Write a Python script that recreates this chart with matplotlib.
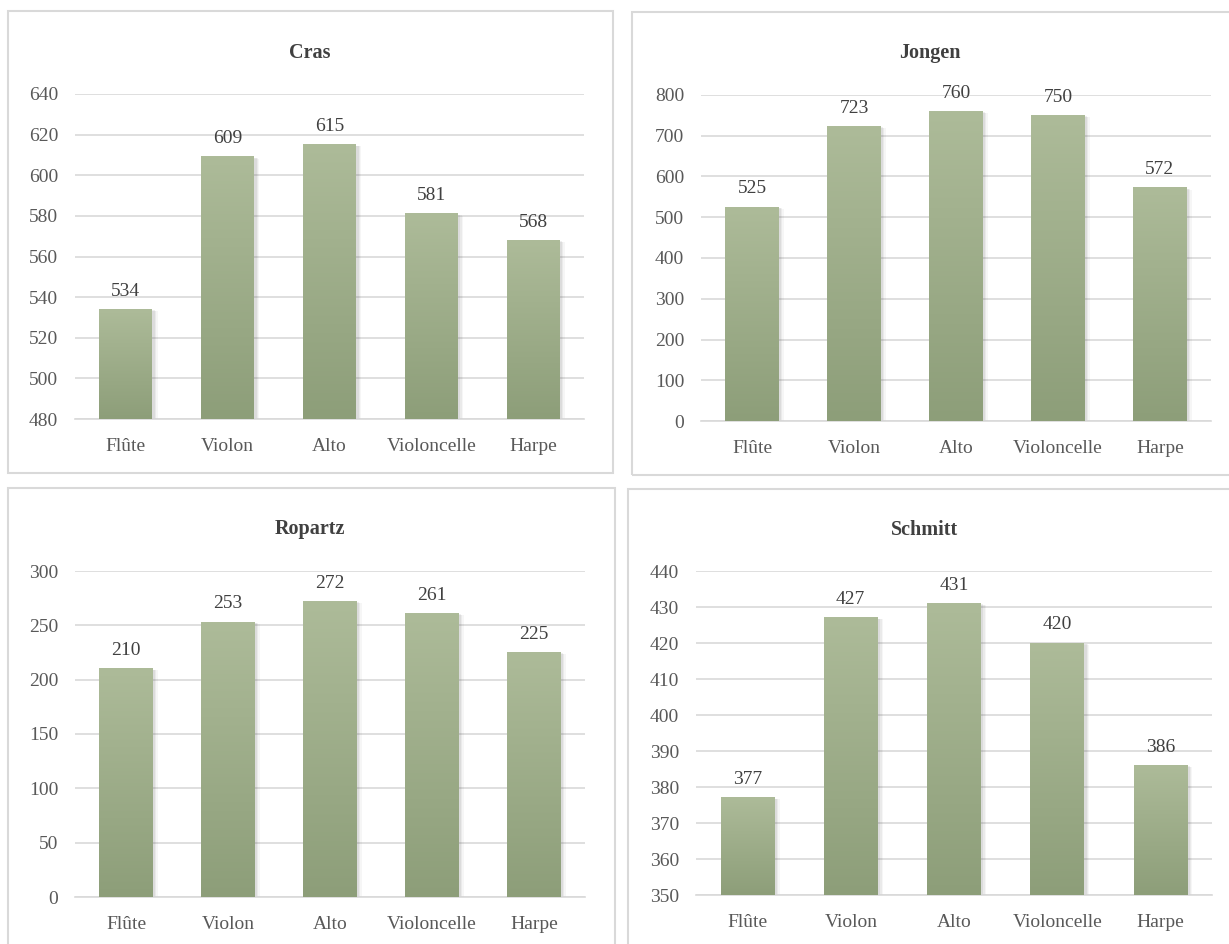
import numpy as np
import matplotlib
matplotlib.use("Agg")
import matplotlib.pyplot as plt
from matplotlib.patches import Rectangle
from matplotlib.colors import LinearSegmentedColormap
import matplotlib.transforms as mtransforms

plt.rcParams['font.family'] = ['Liberation Serif', 'DejaVu Serif']

# data
instruments = ["Flûte", "Violon", "Alto", "Violoncelle", "Harpe"]
cras = [534, 609, 615, 581, 568]
jongen = [525, 723, 760, 750, 572]
ropartz = [210, 253, 272, 261, 225]
schmitt = [377, 427, 431, 420, 386]

titles = ["Cras", "Jongen", "Ropartz", "Schmitt"]
series = [cras, jongen, ropartz, schmitt]
ylims = [(480, 640), (0, 800), (0, 300), (350, 440)]
ysteps = [20, 100, 50, 10]

W, H = 1229, 944
fig = plt.figure(figsize=(W / 100, H / 100), dpi=100)

# panel frames (pixel coords, top-left origin)
frames = [(8, 11, 605, 462), (632, 12, 610, 463), (8, 488, 607, 470), (628, 489, 610, 470)]
for (x, y, w, h) in frames:
    fig.patches.append(Rectangle((x / W, 1 - (y + h) / H), w / W, h / H,
                                 transform=fig.transFigure, fill=False,
                                 edgecolor="#d9d9d9", linewidth=1.5, zorder=0))

# axes boxes: left, right, top, bottom in pixels
boxes = [(75, 584, 94, 419), (701, 1211, 95, 421), (75, 585, 571, 897), (696, 1212, 571, 895)]
title_pos = [(310, 53), (930, 53), (310, 529), (925, 530)]

cmap = LinearSegmentedColormap.from_list("bar", ["#8d9e79", "#adbb99"])
grad = np.linspace(0, 1, 256).reshape(-1, 1)

for i in range(4):
    l, r, t, b = boxes[i]
    ax = fig.add_axes([l / W, 1 - b / H, (r - l) / W, (b - t) / H])
    lo, hi = ylims[i]
    vals = series[i]
    x = np.arange(len(instruments))
    bw = 0.52

    # soft shadow
    for k, a in [(4, 0.05), (3, 0.07), (2, 0.09)]:
        off = mtransforms.offset_copy(ax.transData, fig=fig, x=k * 0.5, y=-k * 0.3, units="points")
        ax.bar(x, np.array(vals) - lo, bottom=lo, width=bw + 0.012 * k, color="#555555",
               alpha=a, transform=off, zorder=2, linewidth=0)

    for xi, v in zip(x, vals):
        ax.imshow(grad, extent=[xi - bw / 2, xi + bw / 2, lo, v], origin="lower",
                  aspect="auto", cmap=cmap, zorder=3)
        ax.annotate(str(v), (xi, v), xytext=(0, 7), textcoords="offset points",
                    ha="center", va="bottom", fontsize=14, color="#404040", zorder=4)

    ax.set_xlim(-0.5, len(instruments) - 0.5)
    ax.set_ylim(lo, hi)
    ax.set_yticks(np.arange(lo, hi + 1, ysteps[i]))
    ax.set_xticks(x)
    ax.set_xticklabels(instruments)
    ax.yaxis.grid(True, color="#d9d9d9", linewidth=1.2)
    ax.set_axisbelow(True)
    for s in ["top", "right", "left"]:
        ax.spines[s].set_visible(False)
    ax.spines["bottom"].set_color("#d9d9d9")
    ax.spines["bottom"].set_linewidth(1.2)
    ax.tick_params(length=0, labelsize=14, labelcolor="#595959")
    ax.tick_params(axis="y", pad=12)
    ax.tick_params(axis="x", pad=14)
    ax.set_facecolor("none")

    tx, ty = title_pos[i]
    fig.text(tx / W, 1 - ty / H, titles[i], ha="center", va="center",
             fontsize=14.5, fontweight="bold", color="#404040")

fig.savefig("out.png", dpi=100)
